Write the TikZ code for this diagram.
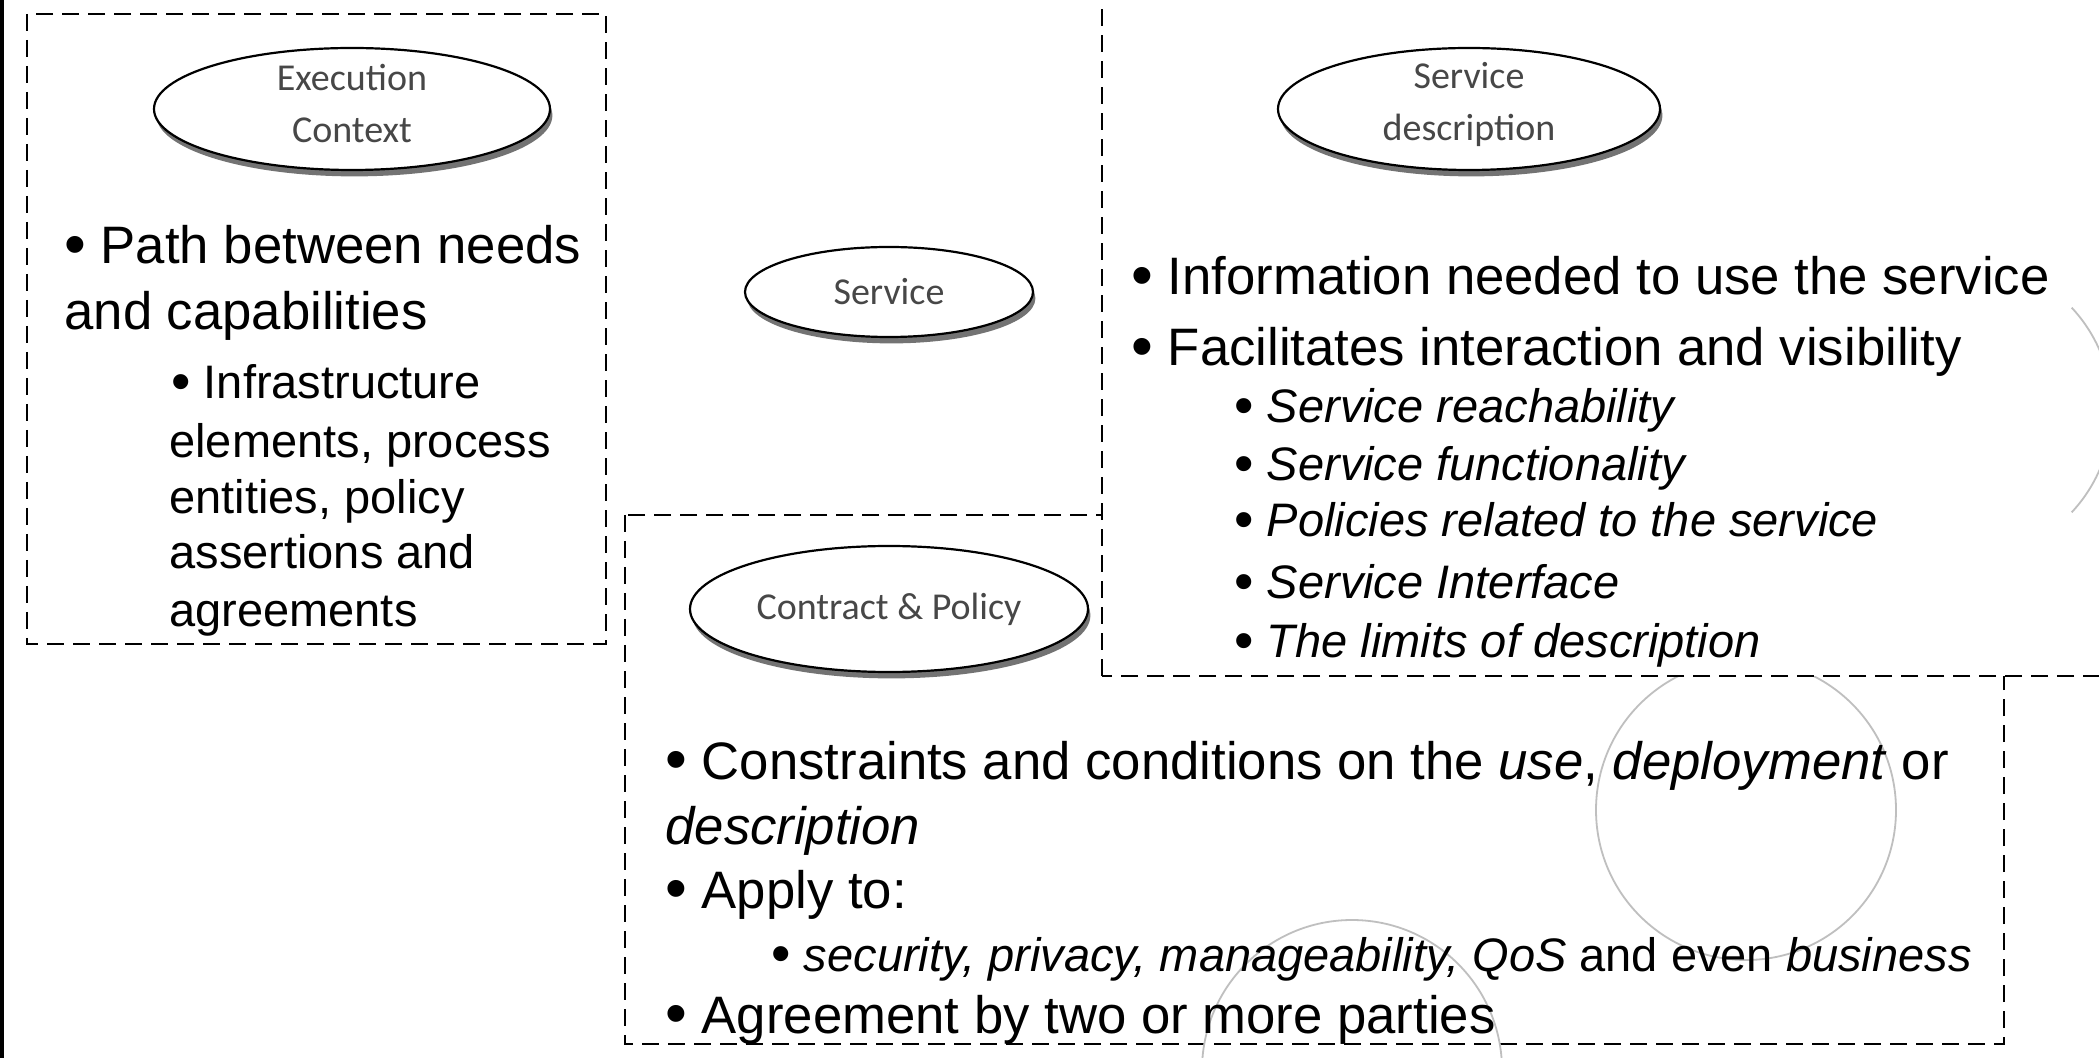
\documentclass[tikz,border=0pt]{standalone}
\usepackage{fontspec}
\setmainfont{Liberation Sans}
\newfontfamily\ovalfont{Carlito}
\usetikzlibrary{shapes.geometric,shadows}
\newcommand\bul{\raisebox{-0.03em}{\scalebox{1.18}{\textbullet}}}

\begin{document}
\begin{tikzpicture}[x=0.5pt,y=-0.5pt,
  dashbox/.style={draw=black, line width=0.9pt, dash pattern=on 8.5pt off 4.5pt},
  oval/.style={ellipse, draw=black, line width=1.1pt, fill=white, inner sep=0pt,
    drop shadow={shadow xshift=1.2pt, shadow yshift=-3.2pt, fill=black, opacity=0.55}},
  ovaltext/.style={inner sep=0pt, align=center, text=black!72,
    font=\ovalfont\fontsize{19}{26}\selectfont},
  ghost/.style={draw=black!25, line width=0.9pt},
  maintext/.style={anchor=base west, inner sep=0pt, font=\fontsize{26.35}{30}\selectfont},
  subtext/.style={anchor=base west, inner sep=0pt, font=\fontsize{23.5}{28}\selectfont},
]
% canvas
\fill[white] (0,0) rectangle (2099,1058);
\useasboundingbox (0,0) rectangle (2099,1058);
\clip (0,0) rectangle (2099,1058);

% solid rule on the left edge
\fill[black] (0,0) rectangle (3.5,1058);

% execution context area
\draw[dashbox] (27,14) rectangle (606,644);
% contract & policy area
\draw[dashbox] (625,515) rectangle (2004,1044);

% faint circles
\coordinate (c2) at (1746,810);
\draw[ghost] (c2) circle[radius=150];
\coordinate (c3) at (1352,1070);
\draw[ghost] (c3) circle[radius=150];

% service description area (opaque, lies over the others)
\draw[dashbox, fill=white] (1102,676) rectangle (2130,-30);

\coordinate (c1) at (1962,410);
\draw[ghost] ([shift={(-43:150)}]c1) arc[start angle=-43, end angle=43, radius=150];

% concept ovals
\node[oval, minimum width=198pt, minimum height=61pt] (exec) at (352,109) {};
\node[ovaltext] (exec-t) at (352,104) {Execution\\Context};
\node[oval, minimum width=144pt, minimum height=45pt] (svc) at (889,292) {};
\node[ovaltext] (svc-t) at (889,292) {Service};
\node[oval, minimum width=191pt, minimum height=61pt] (sdesc) at (1469,109) {};
\node[ovaltext] (sdesc-t) at (1469,104) {Service\\description};
\node[oval, minimum width=199pt, minimum height=63pt] (cp) at (889,609) {};
\node[ovaltext] (cp-t) at (889,609) {Contract \& Policy};

% execution context notes
\node[maintext] (e1) at (64,264) {\bul{} Path between needs};
\node[maintext] (e2) at (64,330) {and capabilities};
\node[subtext] (e3) at (171,399) {\bul{} Infrastructure};
\node[subtext] (e4) at (169,458) {elements, process};
\node[subtext] (e5) at (169,514) {entities, policy};
\node[subtext] (e6) at (169,569) {assertions and};
\node[subtext] (e7) at (169,627) {agreements};

% service description notes
\node[maintext] (d1) at (1131,295) {\bul{} Information needed to use the service};
\node[maintext] (d2) at (1131,366) {\bul{} Facilitates interaction and visibility};
\node[subtext] (d3) at (1234,423) {\bul{} \textit{Service reachability}};
\node[subtext] (d4) at (1234,481) {\bul{} \textit{Service functionality}};
\node[subtext] (d5) at (1234,537) {\bul{} \textit{Policies related to the service}};
\node[subtext] (d6) at (1234,599) {\bul{} \textit{Service Interface}};
\node[subtext] (d7) at (1234,658) {\bul{} \textit{The limits of description}};

% contract & policy notes
\node[maintext] (p1) at (665,779) {\bul{} Constraints and conditions on the \textit{use}, \textit{deployment} or};
\node[maintext] (p2) at (665,844) {\textit{description}};
\node[maintext] (p3) at (665,908) {\bul{} Apply to:};
\node[subtext] (p4) at (771,971) {\bul{} \textit{security, privacy, manageability, QoS} and even \textit{business}};
\node[maintext] (p5) at (665,1033) {\bul{} Agreement by two or more parties};
\end{tikzpicture}
\end{document}
